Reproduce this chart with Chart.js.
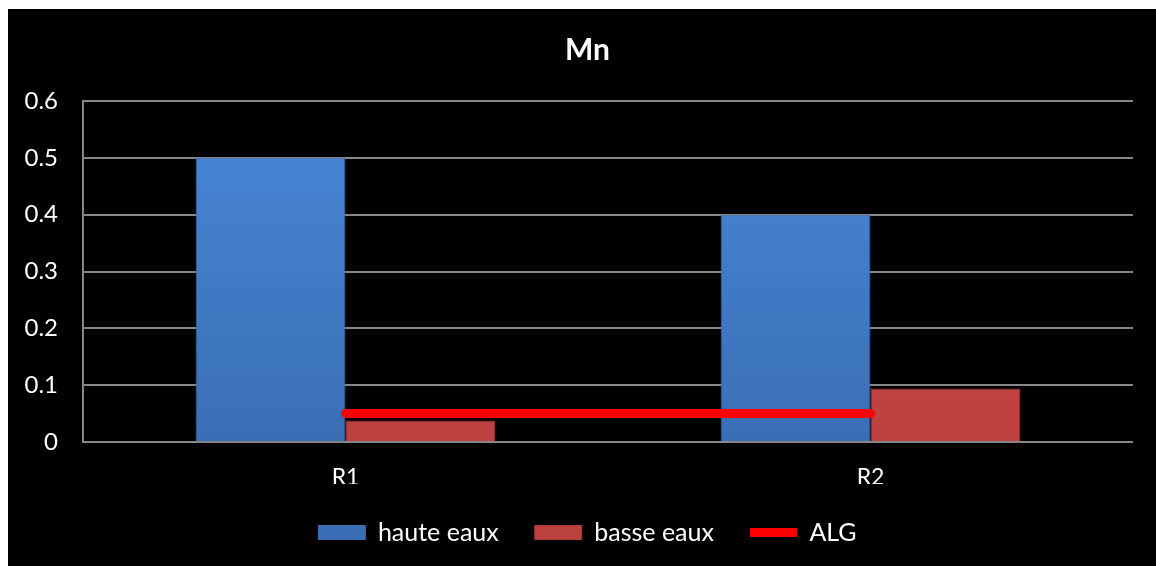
<!DOCTYPE html>
<html>
<head>
<meta charset="utf-8">
<script src="https://cdn.jsdelivr.net/npm/chart.js@4"></script>
<style>
  html, body { margin: 0; padding: 0; background: #fff; }
  #wrap { position: absolute; left: 8px; top: 9px; width: 1148px; height: 557px; background: #000; }
</style>
</head>
<body>
<div id="wrap"><canvas id="mnChart"></canvas></div>
<script>
const categories = ['R1', 'R2'];
const hauteEaux = [0.5, 0.4];
const basseEaux = [0.038, 0.094];
const alg = [0.05, 0.05];
const yTicks = [0, 0.1, 0.2, 0.3, 0.4, 0.5, 0.6];

const FONT = 'Lato, "Open Sans", sans-serif';

function barFill(top, bottom, solid) {
  return (ctx) => {
    const area = ctx.chart.chartArea;
    if (!area) return solid;
    const g = ctx.chart.ctx.createLinearGradient(0, area.top, 0, area.bottom);
    g.addColorStop(0, top);
    g.addColorStop(1, bottom);
    return g;
  };
}

// the y labels sit in the left padding, so widen the axis box after layout (labels are clipped to it)
const widenY = {
  id: 'widenY',
  afterLayout(chart) { chart.scales.y.left = 0; }
};

const ctx = document.getElementById('mnChart').getContext('2d');
new Chart(ctx, {
  data: {
    labels: categories,
    datasets: [
      {
        type: 'bar',
        label: 'haute eaux',
        data: hauteEaux,
        backgroundColor: barFill('#4887d6', '#3a6fb5', '#3f7acb'),
        borderColor: '#3a6db3',
        borderWidth: 1,
        pointStyle: 'rect',
        order: 1
      },
      {
        type: 'bar',
        label: 'basse eaux',
        data: basseEaux,
        backgroundColor: barFill('#d6524e', '#bb413e', '#c84a48'),
        borderColor: '#a83a37',
        borderWidth: 1,
        pointStyle: 'rect',
        order: 2
      },
      {
        type: 'line',
        label: 'ALG',
        data: alg,
        borderColor: '#ff0000',
        backgroundColor: '#ff0000',
        borderWidth: 9,
        borderCapStyle: 'round',
        pointRadius: 0,
        pointStyle: 'line',
        order: 0
      }
    ]
  },
  plugins: [widenY],
  options: {
    responsive: true,
    maintainAspectRatio: false,
    animation: false,
    categoryPercentage: 0.571,
    barPercentage: 1,
    layout: { padding: { left: 34, right: 23, top: 0, bottom: 11 } },
    plugins: {
      title: {
        display: true,
        text: 'Mn',
        color: '#fff',
        font: { family: FONT, size: 30, weight: 'bold' },
        padding: { top: 23, bottom: 33 }
      },
      legend: {
        position: 'bottom',
        labels: {
          color: '#fff',
          font: { family: FONT, size: 25 },
          usePointStyle: true,
          pointStyleWidth: 47,
          boxHeight: 14,
          padding: 36,
          sort: (a, b) => a.datasetIndex - b.datasetIndex
        }
      },
      tooltip: { enabled: false }
    },
    scales: {
      x: {
        grid: { display: false, drawTicks: false },
        border: { display: false },
        afterFit: (scale) => { scale.height = 42; },
        ticks: { color: '#fff', font: { family: FONT, size: 23 }, padding: 22 }
      },
      y: {
        min: 0,
        max: 0.6,
        afterBuildTicks: (scale) => { scale.ticks = yTicks.map(v => ({ value: v })); },
        afterFit: (scale) => { scale.width = 41; },
        grid: { color: '#868686', lineWidth: 2, drawTicks: false },
        border: { color: '#868686', width: 2 },
        ticks: { color: '#fff', font: { family: FONT, size: 24 }, padding: 25 }
      }
    }
  }
});
</script>
</body>
</html>
